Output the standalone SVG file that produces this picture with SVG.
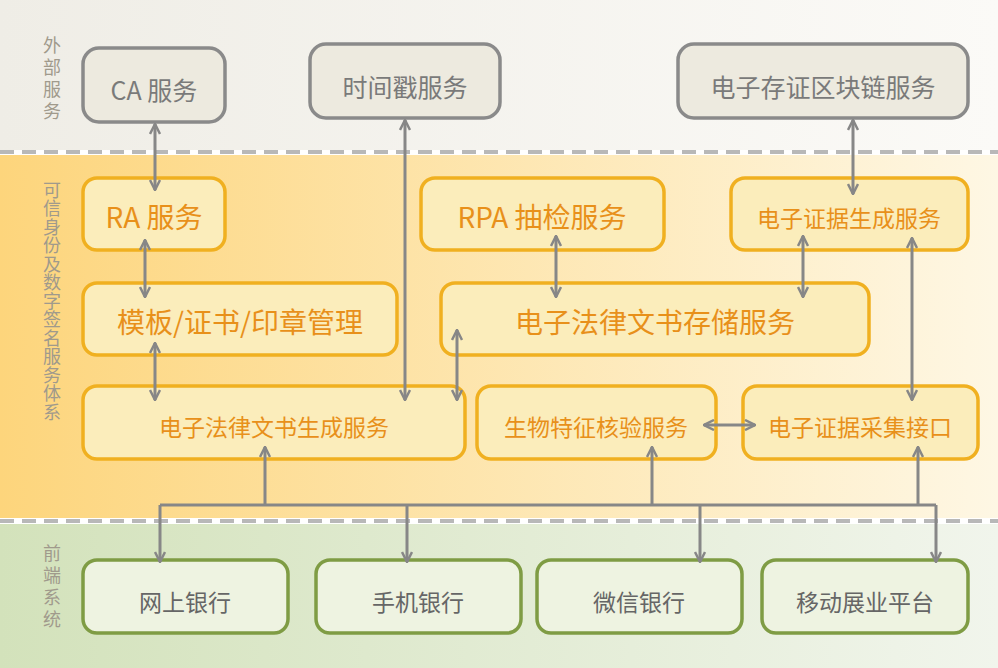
<svg xmlns="http://www.w3.org/2000/svg" width="998" height="668" viewBox="0 0 998 668">
<defs>
<linearGradient id="gTop" x1="0" x2="1"><stop offset="0" stop-color="#efede6"/><stop offset="1" stop-color="#fbfaf7"/></linearGradient>
<linearGradient id="gMid" x1="0" x2="1"><stop offset="0" stop-color="#fdd57c"/><stop offset="1" stop-color="#fef7e4"/></linearGradient>
<linearGradient id="gBot" x1="0" x2="1"><stop offset="0" stop-color="#d3e2bb"/><stop offset="1" stop-color="#f1f5ec"/></linearGradient>
<marker id="ah" viewBox="0 0 12 12" refX="11" refY="6" markerWidth="12" markerHeight="12" markerUnits="userSpaceOnUse" orient="auto-start-reverse"><path d="M1,1 L11,6 L1,11" fill="none" stroke="#878787" stroke-width="2.5"/></marker>
</defs>
<style>
text{font-family:"Noto Sans CJK SC","Noto Sans",sans-serif;text-anchor:middle;dominant-baseline:central}
.g rect{fill:#edeadf;stroke:#8a8a8a;stroke-width:3.5}
.g text{fill:#7a7a7a;font-size:25px}
.o rect{fill:#fbedbb;stroke:#f0b020;stroke-width:3.5}
.o text{fill:#e8901a;font-size:28px}
.o text.s{font-size:23px}
.v rect{fill:#eef3e1;stroke:#7f9c44;stroke-width:3.5}
.v text{fill:#666;font-size:23px}
.lbl text{font-size:18px;fill:#a09a8c;writing-mode:vertical-rl;text-anchor:start}
.c line,.c path{stroke:#878787;stroke-width:3;fill:none}
.d{stroke:#b8b8b8;stroke-width:4;stroke-dasharray:14 8}
</style>
<rect x="0" y="0" width="998" height="150" fill="url(#gTop)"/>
<rect x="0" y="155" width="998" height="363" fill="url(#gMid)"/>
<rect x="0" y="524" width="998" height="144" fill="url(#gBot)"/>
<line class="d" x1="0" y1="152" x2="998" y2="152"/>
<line class="d" x1="0" y1="521" x2="998" y2="521"/>
<g class="lbl">
<text x="52" y="36" letter-spacing="4">外部服务</text>
<text x="52" y="181" letter-spacing="0.5">可信身份及数字签名服务体系</text>
<text x="52" y="544" letter-spacing="4">前端系统</text>
</g>
<g id="ca" class="g"><rect x="83" y="48" width="142" height="74" rx="16"/><text x="154" y="89">CA 服务</text></g>
<g id="ts" class="g"><rect x="310" y="44" width="190" height="74" rx="16"/><text x="405" y="86">时间戳服务</text></g>
<g id="bc" class="g"><rect x="678" y="44" width="290" height="74" rx="16"/><text x="823" y="86">电子存证区块链服务</text></g>
<g id="ra" class="o"><rect x="83" y="178" width="142" height="72" rx="14"/><text x="154" y="216">RA 服务</text></g>
<g id="rpa" class="o"><rect x="421" y="178" width="243" height="72" rx="14"/><text x="542" y="216">RPA 抽检服务</text></g>
<g id="egen" class="o"><rect x="731" y="178" width="237" height="72" rx="14"/><text class="s" x="849" y="217">电子证据生成服务</text></g>
<g id="tpl" class="o"><rect x="83" y="283" width="314" height="72" rx="14"/><text x="240" y="321">模板/证书/印章管理</text></g>
<g id="store" class="o"><rect x="441" y="283" width="428" height="72" rx="14"/><text x="655" y="321">电子法律文书存储服务</text></g>
<g id="dgen" class="o"><rect x="83" y="386" width="382" height="73" rx="14"/><text class="s" x="274" y="426">电子法律文书生成服务</text></g>
<g id="bio" class="o"><rect x="477" y="386" width="239" height="73" rx="14"/><text class="s" x="596" y="426">生物特征核验服务</text></g>
<g id="acq" class="o"><rect x="743" y="386" width="235" height="73" rx="14"/><text class="s" x="860" y="426">电子证据采集接口</text></g>
<g id="web" class="v"><rect x="83" y="560" width="205" height="73" rx="14"/><text x="185" y="601">网上银行</text></g>
<g id="mob" class="v"><rect x="316" y="560" width="205" height="73" rx="14"/><text x="418" y="601">手机银行</text></g>
<g id="wx" class="v"><rect x="537" y="560" width="205" height="73" rx="14"/><text x="639" y="601">微信银行</text></g>
<g id="mp" class="v"><rect x="762" y="560" width="206" height="73" rx="14"/><text x="865" y="601">移动展业平台</text></g>
<g class="c">
<line x1="155" y1="124" x2="155" y2="190" marker-start="url(#ah)" marker-end="url(#ah)"/>
<line x1="405" y1="120" x2="405" y2="400" marker-start="url(#ah)" marker-end="url(#ah)"/>
<line x1="853" y1="120" x2="853" y2="194" marker-start="url(#ah)" marker-end="url(#ah)"/>
<line x1="145" y1="240" x2="145" y2="297" marker-start="url(#ah)" marker-end="url(#ah)"/>
<line x1="556" y1="236" x2="556" y2="297" marker-start="url(#ah)" marker-end="url(#ah)"/>
<line x1="803" y1="236" x2="803" y2="297" marker-start="url(#ah)" marker-end="url(#ah)"/>
<line x1="912" y1="238" x2="912" y2="400" marker-start="url(#ah)" marker-end="url(#ah)"/>
<line x1="155" y1="343" x2="155" y2="400" marker-start="url(#ah)" marker-end="url(#ah)"/>
<line x1="457" y1="330" x2="457" y2="400" marker-start="url(#ah)" marker-end="url(#ah)"/>
<line x1="704" y1="425" x2="755" y2="425" marker-start="url(#ah)" marker-end="url(#ah)"/>
<line x1="160" y1="505" x2="936" y2="505"/>
<line x1="265" y1="505" x2="265" y2="447" marker-end="url(#ah)"/>
<line x1="652" y1="505" x2="652" y2="447" marker-end="url(#ah)"/>
<line x1="918" y1="505" x2="918" y2="447" marker-end="url(#ah)"/>
<line x1="160" y1="505" x2="160" y2="562" marker-end="url(#ah)"/>
<line x1="407" y1="505" x2="407" y2="562" marker-end="url(#ah)"/>
<line x1="700" y1="505" x2="700" y2="562" marker-end="url(#ah)"/>
<line x1="936" y1="505" x2="936" y2="562" marker-end="url(#ah)"/>
</g>
</svg>
